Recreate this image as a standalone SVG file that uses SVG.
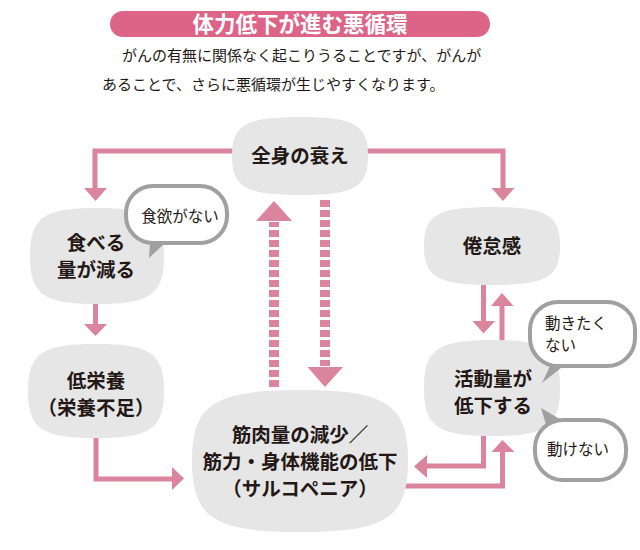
<svg xmlns="http://www.w3.org/2000/svg" width="640" height="550" viewBox="0 0 640 550">
<style>
.t{font-family:"Noto Sans CJK JP","Noto Sans",sans-serif;fill:#231815}
.nl{font-size:19.5px;font-weight:700;text-anchor:middle}
.bl{font-size:15.5px}
.node{fill:#e6e6e6}
.bub{fill:#fff;stroke:#a0a0a0;stroke-width:4}
.tail{fill:#a0a0a0}
.ln{fill:none;stroke:#da849d;stroke-width:5}
.dash{fill:none;stroke:#da849d;stroke-width:10;stroke-dasharray:7 3}
.ah{fill:#da849d}
</style>
<rect width="640" height="550" fill="#fff"/>
<g id="title">
<rect x="110" y="11" width="380" height="26" rx="13" fill="#dc6487"/>
<text x="300" y="32" class="t" style="font-size:21.5px;font-weight:700;fill:#fff;text-anchor:middle">体力低下が進む悪循環</text>
</g>
<g id="intro" class="t" style="font-size:15px">
<text x="122" y="61">がんの有無に関係なく起こりうることですが、がんが</text>
<text x="102" y="90">あることで、さらに悪循環が生じやすくなります。</text>
</g>
<g id="connectors">
<polyline class="ln" points="240,151 95,151 95,189"/>
<polygon class="ah" points="84,188 107,188 95.5,201"/>
<polyline class="ln" points="360,151 503,151 503,189"/>
<polygon class="ah" points="491.5,188 514.5,188 503,201"/>
<line class="ln" x1="95.5" y1="300" x2="95.5" y2="325"/>
<polygon class="ah" points="84,324 107,324 95.5,336"/>
<polyline class="ln" points="96,435 96,479 173,479"/>
<polygon class="ah" points="172,467 172,490 184,478.5"/>
<line class="dash" x1="274" y1="387" x2="274" y2="222"/>
<polygon class="ah" points="256,221 292,221 274,201"/>
<line class="dash" x1="325" y1="200" x2="325" y2="366"/>
<polygon class="ah" points="307.5,367 343,367 325,387"/>
<line class="ln" x1="483.5" y1="282" x2="483.5" y2="322"/>
<polygon class="ah" points="472.5,321 495,321 483.5,333.5"/>
<line class="ln" x1="502" y1="343" x2="502" y2="305"/>
<polygon class="ah" points="491,306 513.5,306 502,293"/>
<polyline class="ln" points="483.5,433 483.5,466 427,466"/>
<polygon class="ah" points="427,455 427,478 414,466.5"/>
<polyline class="ln" points="400,486 502.5,486 502.5,452"/>
<polygon class="ah" points="491.5,452 514.5,452 502.5,440"/>
</g>
<g id="n-zenshin">
<path class="node" d="M300,117 C354.4,117 368,124.8 368,156 C368,187.2 354.4,195 300,195 C245.6,195 232,187.2 232,156 C232,124.8 245.6,117 300,117Z"/>
<text x="300" y="162.5" class="t nl">全身の衰え</text>
</g>
<g id="n-taberu">
<path class="node" d="M97,208 C150.6,208 164,217.6 164,256 C164,294.4 150.6,304 97,304 C43.4,304 30,294.4 30,256 C30,217.6 43.4,208 97,208Z"/>
<text x="96" y="250" class="t nl">食べる</text>
<text x="96" y="277" class="t nl">量が減る</text>
</g>
<g id="b-shokuyoku">
<polygon class="tail" points="150,243 165,243 149,258"/>
<rect class="bub" x="126" y="186" width="101" height="57" rx="27"/>
<text x="180" y="222" class="t bl" style="text-anchor:middle">食欲がない</text>
</g>
<g id="n-teieiyou">
<path class="node" d="M96,344 C150.4,344 164,353.4 164,391 C164,428.6 150.4,438 96,438 C41.6,438 28,428.6 28,391 C28,353.4 41.6,344 96,344Z"/>
<text x="96" y="388" class="t nl">低栄養</text>
<text x="96" y="415" class="t nl">（栄養不足）</text>
</g>
<g id="n-kinniku">
<path class="node" d="M300,390 C386.4,390 408,404.2 408,461 C408,517.8 386.4,532 300,532 C213.6,532 192,517.8 192,461 C192,404.2 213.6,390 300,390Z"/>
<text x="300" y="442" class="t nl" style="font-size:19.5px">筋肉量の減少／</text>
<text x="300" y="469" class="t nl" style="font-size:19.5px">筋力・身体機能の低下</text>
<text x="300" y="496" class="t nl" style="font-size:19.5px">（サルコペニア）</text>
</g>
<g id="n-kentaikan">
<path class="node" d="M492,207 C546.4,207 560,214.8 560,246 C560,277.2 546.4,285 492,285 C437.6,285 424,277.2 424,246 C424,214.8 437.6,207 492,207Z"/>
<text x="492" y="253" class="t nl">倦怠感</text>
</g>
<g id="n-katsudou">
<path class="node" d="M492,340 C546.4,340 560,349.6 560,388 C560,426.4 546.4,436 492,436 C437.6,436 424,426.4 424,388 C424,349.6 437.6,340 492,340Z"/>
<text x="493" y="386" class="t nl">活動量が</text>
<text x="493" y="413" class="t nl">低下する</text>
</g>
<g id="b-ugokitaku">
<polygon class="tail" points="551,364 566,364 542,383"/>
<rect class="bub" x="530" y="302" width="105" height="64" rx="28"/>
<text x="545" y="329" class="t bl">動きたく</text>
<text x="545" y="351" class="t bl">ない</text>
</g>
<g id="b-ugokenai">
<polygon class="tail" points="547,428 563,421 541,408"/>
<rect class="bub" x="535" y="420" width="91" height="60" rx="28"/>
<text x="578" y="455" class="t bl" style="text-anchor:middle">動けない</text>
</g>
</svg>
